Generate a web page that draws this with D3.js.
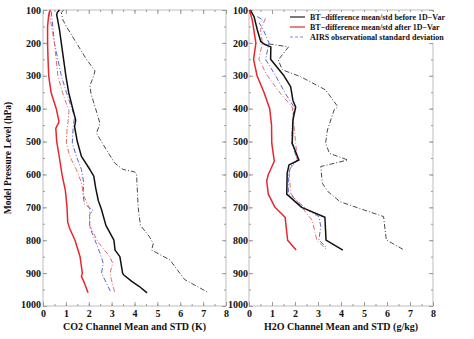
<!DOCTYPE html>
<html><head><meta charset="utf-8">
<script src="https://cdn.jsdelivr.net/npm/d3@7/dist/d3.min.js"></script>
<style>
html,body{margin:0;padding:0;background:#fff;}
svg{display:block;font-family:"Liberation Serif","Times New Roman",serif;font-weight:bold;}
</style></head>
<body>
<svg id="chart" width="474" height="339"></svg>
<script>
// ---- data: [pressure (hPa), value] ----
const pressureTicks = [100,200,300,400,500,600,700,800,900,1000];
const valueTicks = [0,1,2,3,4,5,6,7,8];

// CO2 panel (K)
const co2MeanBefore = [[100,0.72],[108,0.62],[115,0.6],[160,0.72],[250,0.9],[300,1.0],[350,1.12],[400,1.3],[435,1.43],[455,1.38],[500,1.5],[545,1.68],[585,2.05],[605,2.22],[640,2.3],[680,2.42],[705,2.55],[755,2.75],[800,3.1],[830,3.15],[850,3.36],[900,3.48],[905,3.52],[925,3.88],[940,4.2],[960,4.55]];
const co2MeanAfter = [[100,0.32],[115,0.25],[150,0.2],[200,0.2],[250,0.22],[300,0.25],[350,0.35],[400,0.58],[440,0.7],[460,0.56],[500,0.6],[550,0.72],[600,0.83],[650,0.98],[700,1.05],[745,1.08],[765,1.17],[800,1.4],[850,1.62],[900,1.72],[910,1.68],[925,1.78],[960,1.97]];
const co2AirsStd = [[105,0.36],[130,0.4],[200,0.5],[250,0.65],[300,0.8],[350,1.02],[395,1.24],[425,1.38],[455,1.32],[505,1.28],[545,1.46],[585,1.68],[625,1.78],[665,1.75],[690,1.82],[710,2.2],[720,2.04],[760,2.04],[810,2.33],[850,2.55],[870,2.63],[900,2.56],[930,2.77],[960,2.98]];
const co2StdAfter = [[105,0.26],[200,0.5],[300,0.65],[350,0.85],[385,1.02],[405,1.14],[435,1.1],[465,1.05],[505,1.02],[545,1.17],[585,1.46],[625,1.68],[665,1.78],[705,2.04],[755,2.04],[805,2.4],[850,2.92],[870,3.05],[900,2.93],[920,2.99],[960,3.14]];
const co2StdBefore = [[100,0.9],[108,0.8],[130,0.87],[150,1.02],[200,1.46],[250,1.9],[285,2.27],[300,2.22],[330,2.05],[355,2.1],[400,2.3],[445,2.49],[475,2.34],[525,2.77],[565,3.13],[585,3.5],[592,4.0],[600,4.09],[700,4.16],[755,4.26],[790,4.66],[810,4.82],[830,4.75],[860,5.55],[900,5.98],[920,6.2],[960,7.25]];

// H2O panel (g/kg)
const h2oMeanBefore = [[100,0.05],[120,0.22],[160,0.36],[196,0.51],[205,0.7],[212,0.95],[250,0.94],[300,1.52],[333,1.81],[375,1.91],[395,2.03],[435,1.91],[505,1.88],[556,2.17],[571,1.74],[596,1.66],[660,1.64],[700,2.29],[730,3.3],[800,3.35],[830,4.08]];
const h2oMeanAfter = [[100,0.02],[130,0.14],[200,0.3],[250,0.2],[300,0.35],[350,0.65],[400,0.9],[450,0.98],[505,0.99],[560,1.1],[600,0.84],[620,0.77],[660,0.84],[700,1.13],[730,1.57],[800,1.68],[830,2.05]];
const h2oAirsStd = [[120,0.36],[130,0.6],[140,0.45],[160,0.62],[200,0.87],[250,0.72],[300,1.16],[355,1.59],[395,1.96],[455,1.88],[505,1.86],[556,2.1],[576,1.81],[607,1.71],[657,1.71],[708,2.54],[728,3.04],[758,3.12],[799,3.04],[825,3.4]];
const h2oStdAfter = [[125,0.72],[160,0.5],[200,0.58],[250,0.43],[300,0.8],[355,1.38],[395,1.88],[455,1.96],[505,2.03],[556,2.1],[586,1.74],[657,1.81],[708,2.39],[740,2.75],[800,2.95],[830,3.4]];
const h2oStdBefore = [[203,0.85],[212,1.72],[252,1.27],[282,1.45],[303,2.25],[343,3.33],[394,3.86],[404,3.7],[465,3.41],[505,3.33],[536,3.5],[556,4.3],[576,3.12],[627,3.19],[652,3.43],[683,3.96],[708,5.0],[728,5.85],[799,5.97],[830,6.75]];

const legendLabels = ["BT\u2212difference mean/std before 1D\u2212Var","BT\u2212difference mean/std after 1D\u2212Var","AIRS observational standard deviation"];
const xTitles = ["CO2 Channel Mean and STD (K)","H2O Channel Mean and STD (g/kg)"];
const yTitle = "Model Pressure Level (hPa)";

// ---- styles ----
const styles = {
  stdBefore:{color:"#4a4a4a",width:1,dash:"5,2,1,2"},
  airs:{color:"#5a62d8",width:1,dash:"5,2,1,2"},
  stdAfter:{color:"#e86a6a",width:1,dash:"5,2,1,2"},
  meanBefore:{color:"#111111",width:1.5,dash:null},
  meanAfter:{color:"#e8262e",width:1.5,dash:null}
};

const svg = d3.select("#chart");
const y = d3.scaleLinear().domain([100,1000]).range([10,306]);
const panels = [
  {x:d3.scaleLinear().domain([0,8]).range([43,226]), title:xTitles[0], yPad:2,
   series:[[co2StdBefore,"stdBefore"],[co2AirsStd,"airs"],[co2StdAfter,"stdAfter"],[co2MeanBefore,"meanBefore"],[co2MeanAfter,"meanAfter"]]},
  {x:d3.scaleLinear().domain([0,8]).range([249,433]), title:xTitles[1], yPad:1,
   series:[[h2oStdBefore,"stdBefore"],[h2oAirsStd,"airs"],[h2oStdAfter,"stdAfter"],[h2oMeanBefore,"meanBefore"],[h2oMeanAfter,"meanAfter"]]}
];

const axisColor = "#9a9a9a";
const minorX = d3.range(0,8.01,0.5);
const minorY = d3.range(100,1001,50);

function styleAxis(g){
  g.select(".domain").remove();
  g.selectAll("line").attr("stroke",axisColor);
  g.selectAll("text").attr("fill","#111").style("font-size","10px").style("font-weight","bold")
    .style("font-family","'Liberation Serif','Times New Roman',serif");
}

panels.forEach(p=>{
  const x = p.x;
  const [x0,x1] = x.range();
  const [y0,y1] = y.range();
  // frame
  svg.append("rect").attr("x",x0).attr("y",y0).attr("width",x1-x0).attr("height",y1-y0)
    .attr("fill","none").attr("stroke","#bdbdbd").attr("stroke-width",1);
  // minor ticks
  svg.append("g").attr("transform",`translate(0,${y1})`).call(d3.axisBottom(x).tickValues(minorX).tickSize(-2).tickFormat("")).call(styleAxis);
  svg.append("g").attr("transform",`translate(0,${y0})`).call(d3.axisTop(x).tickValues(minorX).tickSize(-2).tickFormat("")).call(styleAxis);
  svg.append("g").attr("transform",`translate(${x0},0)`).call(d3.axisLeft(y).tickValues(minorY).tickSize(-2).tickFormat("")).call(styleAxis);
  svg.append("g").attr("transform",`translate(${x1},0)`).call(d3.axisRight(y).tickValues(minorY).tickSize(-2).tickFormat("")).call(styleAxis);
  // major ticks with labels
  svg.append("g").attr("transform",`translate(0,${y1})`).call(d3.axisBottom(x).tickValues(valueTicks).tickSize(-4).tickPadding(4).tickFormat(d3.format("d"))).call(styleAxis);
  svg.append("g").attr("transform",`translate(0,${y0})`).call(d3.axisTop(x).tickValues(valueTicks).tickSize(-4).tickFormat("")).call(styleAxis);
  const yAx = svg.append("g").attr("transform",`translate(${x0},0)`).call(d3.axisLeft(y).tickValues(pressureTicks).tickSize(-4).tickPadding(p.yPad).tickFormat(d3.format("d"))).call(styleAxis);
  // keep the bottom pressure label clear of the x labels below it
  yAx.selectAll(".tick").filter(d=>d===1000).select("text").attr("dy","0.1em");
  svg.append("g").attr("transform",`translate(${x1},0)`).call(d3.axisRight(y).tickValues(pressureTicks).tickSize(-4).tickFormat("")).call(styleAxis);

  // lines
  const line = d3.line().x(d=>x(d[1])).y(d=>y(d[0]));
  p.series.forEach(([data,key])=>{
    const s = styles[key];
    svg.append("path").datum(data).attr("d",line).attr("fill","none")
      .attr("stroke",s.color).attr("stroke-width",s.width)
      .attr("stroke-dasharray",s.dash).attr("stroke-linejoin","round");
  });

  // x title
  svg.append("text").attr("x",(x0+x1)/2).attr("y",330).attr("text-anchor","middle")
    .style("font-size","10px").attr("fill","#111").text(p.title);
});

// y title
svg.append("text").attr("transform","translate(11,158) rotate(-90)").attr("text-anchor","middle")
  .style("font-size","9.5px").attr("fill","#111").text(yTitle);

// legend
const legendItems = [
  {label:legendLabels[0],color:"#222",dash:null,width:1.2},
  {label:legendLabels[1],color:"#e8262e",dash:null,width:1.2},
  {label:legendLabels[2],color:"#8a86e8",dash:"3,2",width:1.2}
];
const lg = svg.append("g");
lg.append("rect").attr("x",286).attr("y",12).attr("width",160).attr("height",31).attr("fill","#fff");
legendItems.forEach((it,i)=>{
  const ly = 17 + i*10;
  lg.append("line").attr("x1",290).attr("x2",305).attr("y1",ly).attr("y2",ly)
    .attr("stroke",it.color).attr("stroke-width",it.width).attr("stroke-dasharray",it.dash);
  lg.append("text").attr("x",310).attr("y",ly+3).style("font-size","8px").attr("fill","#111").text(it.label);
});
</script>
</body></html>
